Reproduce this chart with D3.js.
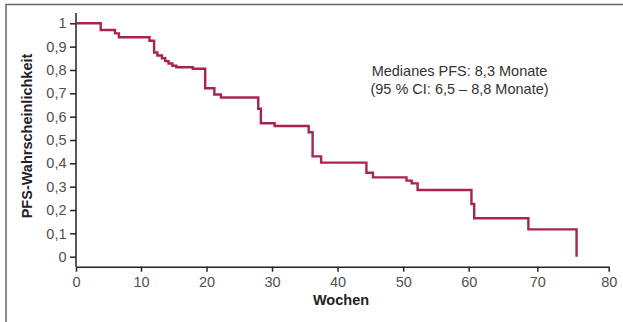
<!DOCTYPE html>
<html lang="de">
<head>
<meta charset="utf-8">
<title>PFS-Wahrscheinlichkeit</title>
<script src="https://d3js.org/d3.v7.min.js"></script>
<style>
    body { margin: 0; background: #fff; }
    svg { display: block; font-family: "Liberation Sans", Arial, Helvetica, sans-serif; }
    .axis text { fill: #505050; font-size: 14.5px; }
    .axis line, .axis path { stroke: #222; stroke-width: 1.5px; }
    .title { font-weight: bold; font-size: 14.5px; fill: #222; }
    .note { font-size: 14.5px; fill: #333; }
</style>
</head>
<body>
<div id="chart"></div>
<script>
// Kaplan-Meier steps: time of event (weeks) and survival afterwards
var weeks = [0, 3.8, 6.0, 6.6, 11.3, 12.0, 12.5, 13.2, 13.7, 14.2, 14.8, 15.4, 17.9,
             19.8, 21.2, 22.2, 27.9, 28.3, 30.4, 35.6, 36.2, 37.5, 44.4, 45.4,
             50.5, 51.3, 52.2, 60.4, 60.8, 68.7, 75.5];
var survival = [1, 0.971, 0.957, 0.94, 0.925, 0.875, 0.862, 0.85, 0.838, 0.828, 0.818, 0.812, 0.805,
                0.722, 0.695, 0.682, 0.634, 0.572, 0.56, 0.533, 0.43, 0.403, 0.36, 0.34,
                0.326, 0.314, 0.286, 0.226, 0.165, 0.117, 0];
var xTicks = [0, 10, 20, 30, 40, 50, 60, 70, 80];
var yTicks = [0, 0.1, 0.2, 0.3, 0.4, 0.5, 0.6, 0.7, 0.8, 0.9, 1];
var noteLines = ["Medianes PFS: 8,3 Monate", "(95 % CI: 6,5 \u2013 8,8 Monate)"];

var w = 623, h = 322;

var svg = d3.select("#chart").append("svg")
    .attr("width", w)
    .attr("height", h);

// frame (runs off the right and bottom edge in the source)
svg.append("rect")
    .attr("x", 6).attr("y", 4.5)
    .attr("width", w + 10).attr("height", h + 10)
    .attr("fill", "none")
    .attr("stroke", "#666")
    .attr("stroke-width", 1.5);

// the printed x axis is not evenly spaced towards the end, so map tick by tick
var xScale = d3.scaleLinear()
    .domain(xTicks)
    .range([76, 141, 206.5, 272, 337.5, 403.2, 468.7, 537.3, 608.7]);

var yScale = d3.scaleLinear()
    .domain([0, 1])
    .range([256.7, 23.3]);

var axisY = 266.7;
var fmt = function(d) { return String(d).replace(".", ","); };

var gx = svg.append("g")
    .attr("class", "axis")
    .attr("transform", "translate(0," + axisY + ")")
    .call(d3.axisBottom(xScale).tickValues(xTicks).tickSizeInner(5).tickSizeOuter(0)
        .tickPadding(5).tickFormat(fmt));

var gy = svg.append("g")
    .attr("class", "axis")
    .attr("transform", "translate(" + xScale(0) + ",0)")
    .call(d3.axisLeft(yScale).tickValues(yTicks).tickSizeInner(6).tickSizeOuter(0)
        .tickPadding(3.5).tickFormat(fmt));
gy.select(".domain").remove();
gy.append("line")
    .attr("x1", 0).attr("x2", 0)
    .attr("y1", 13).attr("y2", axisY)
    .attr("stroke", "#222")
    .attr("stroke-width", 1.5);

// survival curve
var line = d3.line()
    .x(function(d) { return xScale(d[0]); })
    .y(function(d) { return yScale(d[1]); })
    .curve(d3.curveStepAfter);

svg.append("path")
    .datum(d3.zip(weeks, survival))
    .attr("d", line)
    .attr("fill", "none")
    .attr("stroke", "#a8244f")
    .attr("stroke-width", 2.4);

// axis titles
svg.append("text")
    .attr("class", "title")
    .attr("x", 341).attr("y", 305)
    .attr("text-anchor", "middle")
    .text("Wochen");

svg.append("text")
    .attr("class", "title")
    .attr("transform", "translate(32,136) rotate(-90)")
    .attr("text-anchor", "middle")
    .text("PFS-Wahrscheinlichkeit");

// median annotation
svg.append("text")
    .attr("class", "note")
    .attr("text-anchor", "middle")
    .selectAll("tspan")
    .data(noteLines)
    .enter()
    .append("tspan")
    .attr("x", 459.5)
    .attr("y", function(d, i) { return 76 + i * 18; })
    .text(function(d) { return d; });
</script>
</body>
</html>
